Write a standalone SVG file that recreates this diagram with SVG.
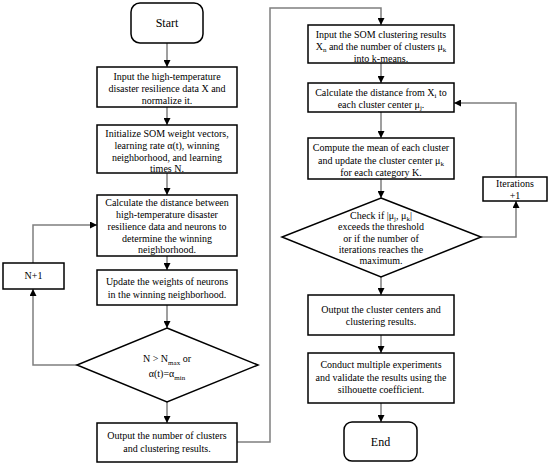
<svg xmlns="http://www.w3.org/2000/svg" width="550" height="465" viewBox="0 0 550 465" font-family="'Liberation Serif', 'Times New Roman', 'DejaVu Serif', serif">
<defs>
<marker id="ah" markerUnits="userSpaceOnUse" markerWidth="7" markerHeight="7" refX="7" refY="3.5" orient="auto">
<path d="M0,0 L7,3.5 L0,7 z" fill="#000"/>
</marker>
</defs>
<style>
.box{fill:#fff;stroke:#000;stroke-width:1.5}
.t{font-family:'Liberation Serif','Times New Roman',serif;font-size:10px;fill:#000;text-anchor:middle}
.big{font-size:12px}
.c{fill:none;stroke:#7f7f7f;stroke-width:1.5;marker-end:url(#ah)}
.s{font-size:7px}
</style>
<rect width="550" height="465" fill="#fff"/>
<g id="connectors">
<path class="c" d="M167,43 V67"/>
<path class="c" d="M167,107 V125"/>
<path class="c" d="M167,173 V195"/>
<path class="c" d="M167,256 V270"/>
<path class="c" d="M167,305 V328"/>
<path class="c" d="M167,402 V423"/>
<path class="c" d="M77,365 H33 V289"/>
<path class="c" d="M33,263 V225 H97"/>
<path class="c" d="M237,442 H270 V8 H381 V25"/>
<path class="c" d="M381,63 V83"/>
<path class="c" d="M381,112 V138"/>
<path class="c" d="M381,179 V198"/>
<path class="c" d="M481,237 H516 V201"/>
<path class="c" d="M516,177 V103 H454"/>
<path class="c" d="M381,277 V295"/>
<path class="c" d="M381,335 V353"/>
<path class="c" d="M381,403 V422"/>
</g>
<g id="start">
<rect class="box" x="131" y="3" width="72" height="40" rx="9"/>
<text class="t big" x="167" y="27">Start</text>
</g>
<g id="input-data">
<rect class="box" x="97" y="67" width="140" height="40"/>
<text class="t" x="167" y="80">Input the high-temperature</text>
<text class="t" x="167" y="92">disaster resilience data X and</text>
<text class="t" x="167" y="104">normalize it.</text>
</g>
<g id="init-som">
<rect class="box" x="97" y="125" width="140" height="48"/>
<text class="t" x="167" y="137">Initialize SOM weight vectors,</text>
<text class="t" x="167" y="149">learning rate α(t), winning</text>
<text class="t" x="167" y="161">neighborhood, and learning</text>
<text class="t" x="167" y="172">times  N.</text>
</g>
<g id="calc-distance">
<rect class="box" x="97" y="195" width="140" height="61"/>
<text class="t" x="167" y="206">Calculate the distance between</text>
<text class="t" x="167" y="218">high-temperature disaster</text>
<text class="t" x="167" y="230">resilience data and neurons to</text>
<text class="t" x="167" y="242">determine the winning</text>
<text class="t" x="167" y="253">neighborhood.</text>
</g>
<g id="update-weights">
<rect class="box" x="97" y="270" width="140" height="35"/>
<text class="t" x="167" y="285">Update the weights of neurons</text>
<text class="t" x="167" y="298">in the winning neighborhood.</text>
</g>
<g id="n-plus-1">
<rect class="box" x="3" y="263" width="61" height="26"/>
<text class="t" x="33.5" y="279">N+1</text>
</g>
<g id="decision-som">
<polygon class="box" points="167,328 258,365 167,402 77,365"/>
<text class="t" x="167" y="362">N &gt; N<tspan class="s" baseline-shift="-3">max</tspan> or</text>
<text class="t" x="167" y="377">α(t)=α<tspan class="s" baseline-shift="-3">min</tspan></text>
</g>
<g id="output-som">
<rect class="box" x="97" y="423" width="140" height="39"/>
<text class="t" x="167" y="439">Output the number of clusters</text>
<text class="t" x="167" y="452">and clustering results.</text>
</g>
<g id="input-kmeans">
<rect class="box" x="308" y="25" width="146" height="38"/>
<text class="t" x="381" y="38">Input the SOM clustering results</text>
<text class="t" x="381" y="50">X<tspan class="s" baseline-shift="-2">n</tspan> and the number of clusters μ<tspan class="s" baseline-shift="-2">k</tspan></text>
<text class="t" x="381" y="62">into k-means.</text>
</g>
<g id="calc-center-distance">
<rect class="box" x="308" y="83" width="146" height="29"/>
<text class="t" x="381" y="96">Calculate the distance from X<tspan class="s" baseline-shift="-2">i</tspan> to</text>
<text class="t" x="381" y="108">each cluster center μ<tspan class="s" baseline-shift="-2">j</tspan>.</text>
</g>
<g id="compute-mean">
<rect class="box" x="308" y="138" width="146" height="41"/>
<text class="t" x="381" y="151">Compute the mean of each cluster</text>
<text class="t" x="381" y="164">and update the cluster center μ<tspan class="s" baseline-shift="-2">k</tspan></text>
<text class="t" x="381" y="176">for each category K.</text>
</g>
<g id="iterations">
<rect class="box" x="483" y="177" width="64" height="24"/>
<text class="t" x="515" y="187">Iterations</text>
<text class="t" x="515" y="199">+1</text>
</g>
<g id="decision-kmeans">
<polygon class="box" points="381,198 481,237 381,277 282,237"/>
<text class="t" x="381" y="219">Check if |μ<tspan class="s" baseline-shift="-2">j</tspan>, μ<tspan class="s" baseline-shift="-2">k</tspan>|</text>
<text class="t" x="381" y="230">exceeds the threshold</text>
<text class="t" x="381" y="242">or if the number of</text>
<text class="t" x="381" y="253">iterations reaches the</text>
<text class="t" x="381" y="264">maximum.</text>
</g>
<g id="output-centers">
<rect class="box" x="308" y="295" width="146" height="40"/>
<text class="t" x="381" y="313">Output the cluster centers and</text>
<text class="t" x="381" y="325">clustering results.</text>
</g>
<g id="experiments">
<rect class="box" x="308" y="353" width="146" height="50"/>
<text class="t" x="381" y="368">Conduct multiple experiments</text>
<text class="t" x="381" y="381">and validate the results using the</text>
<text class="t" x="381" y="393">silhouette coefficient.</text>
</g>
<g id="end">
<rect class="box" x="344" y="422" width="73" height="39" rx="8"/>
<text class="t big" x="380.5" y="446">End</text>
</g>
</svg>
